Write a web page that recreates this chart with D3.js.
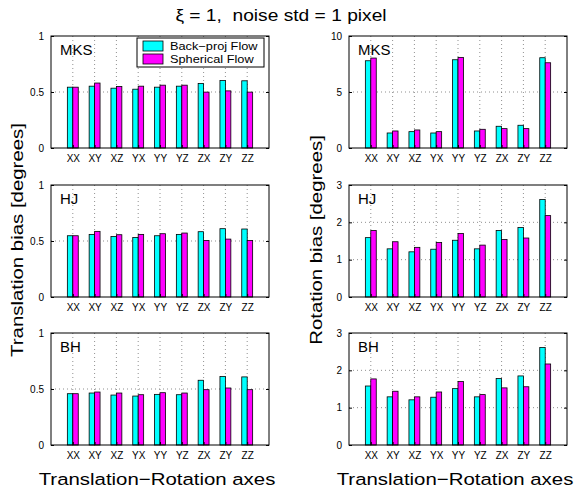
<!DOCTYPE html>
<html>
<head>
<meta charset="utf-8">
<title>Translation / rotation bias</title>
<script src="https://cdn.jsdelivr.net/npm/d3@7"></script>
<style>
body { margin: 0; background: #fff; }
svg { font-family: "Liberation Sans", Arial, sans-serif; }
.grid line { stroke: #444; stroke-width: 0.6; stroke-dasharray: 1 3; }
.tick text { font-size: 10px; fill: #000; font-family: "Liberation Sans", Arial, sans-serif; }
</style>
</head>
<body>
<svg width="580" height="488"></svg>
<script>
// categories (translation-rotation axis pairs)
var cats = ["XX", "XY", "XZ", "YX", "YY", "YZ", "ZX", "ZY", "ZZ"];
var seriesNames = ["Back\u2212proj Flow", "Spherical Flow"];

// translation bias [deg]
var transMKS_bp  = [0.543, 0.552, 0.534, 0.525, 0.543, 0.552, 0.576, 0.602, 0.600];
var transMKS_sph = [0.543, 0.580, 0.549, 0.552, 0.561, 0.561, 0.499, 0.510, 0.499];
var transHJ_bp   = [0.547, 0.559, 0.541, 0.532, 0.547, 0.559, 0.583, 0.610, 0.607];
var transHJ_sph  = [0.547, 0.586, 0.556, 0.559, 0.565, 0.571, 0.505, 0.517, 0.505];
var transBH_bp   = [0.458, 0.464, 0.446, 0.437, 0.452, 0.449, 0.578, 0.611, 0.608];
var transBH_sph  = [0.458, 0.473, 0.464, 0.449, 0.467, 0.464, 0.494, 0.509, 0.494];

// rotation bias [deg]
var rotMKS_bp  = [7.79, 1.34, 1.46, 1.34, 7.88, 1.52, 1.94, 2.03, 8.06];
var rotMKS_sph = [8.03, 1.52, 1.61, 1.46, 8.09, 1.67, 1.73, 1.73, 7.61];
var rotHJ_bp   = [1.59, 1.29, 1.21, 1.28, 1.52, 1.29, 1.78, 1.86, 2.61];
var rotHJ_sph  = [1.78, 1.48, 1.33, 1.46, 1.70, 1.39, 1.54, 1.58, 2.18];
var rotBH_bp   = [1.58, 1.29, 1.21, 1.28, 1.51, 1.29, 1.78, 1.85, 2.61];
var rotBH_sph  = [1.77, 1.44, 1.29, 1.42, 1.70, 1.35, 1.53, 1.56, 2.17];

// y ticks per panel
var transTicks = [0, 0.5, 1];
var rotMKSTicks = [0, 5, 10];
var rotTicks = [0, 1, 2, 3];

var colors = ["#00ffff", "#ff00ff"];

var panels = [
  {name: "MKS", col: 0, row: 0, a: transMKS_bp, b: transMKS_sph, ticks: transTicks, legend: true},
  {name: "HJ",  col: 0, row: 1, a: transHJ_bp,  b: transHJ_sph,  ticks: transTicks},
  {name: "BH",  col: 0, row: 2, a: transBH_bp,  b: transBH_sph,  ticks: transTicks},
  {name: "MKS", col: 1, row: 0, a: rotMKS_bp,   b: rotMKS_sph,   ticks: rotMKSTicks},
  {name: "HJ",  col: 1, row: 1, a: rotHJ_bp,    b: rotHJ_sph,    ticks: rotTicks},
  {name: "BH",  col: 1, row: 2, a: rotBH_bp,    b: rotBH_sph,    ticks: rotTicks}
];

var svg = d3.select("svg");
var colX = [51, 349], rowY = [36, 185, 333];
var pw = 218, ph = 112;
var SX = 1.2; // the original text is rendered wider than Helvetica

panels.forEach(function(p) {
  var g = svg.append("g").attr("transform", "translate(" + colX[p.col] + "," + rowY[p.row] + ")");
  var x = d3.scaleLinear().domain([0, 10]).range([0, pw]);
  var y = d3.scaleLinear().domain([p.ticks[0], p.ticks[p.ticks.length - 1]]).range([ph, 0]);

  // grid
  var grid = g.append("g").attr("class", "grid");
  grid.selectAll(".gv").data(cats).enter().append("line")
    .attr("x1", function(d, i) { return x(i + 1); }).attr("x2", function(d, i) { return x(i + 1); })
    .attr("y1", 0).attr("y2", ph);
  grid.selectAll(".gh").data(p.ticks.slice(1, -1)).enter().append("line")
    .attr("x1", 0).attr("x2", pw).attr("y1", function(d) { return y(d); }).attr("y2", function(d) { return y(d); });

  // bars
  var bw = 0.25;
  [p.a, p.b].forEach(function(vals, s) {
    g.selectAll(".bar" + s).data(vals).enter().append("rect")
      .attr("x", function(d, i) { return x(i + 1 - bw + s * bw); })
      .attr("width", x(bw) - x(0))
      .attr("y", function(d) { return y(d); })
      .attr("height", function(d) { return y(0) - y(d); })
      .attr("fill", colors[s]).attr("stroke", "#000").attr("stroke-width", 0.8);
  });

  // axes
  g.append("g").attr("transform", "translate(0," + ph + ")")
    .call(d3.axisBottom(x).tickValues(d3.range(1, 10)).tickFormat(function(d) { return cats[d - 1]; })
      .tickSizeInner(-3).tickSizeOuter(0).tickPadding(7))
    .call(function(a) { a.select(".domain").remove(); a.selectAll("line").attr("stroke", "#000"); });
  g.append("g")
    .call(d3.axisLeft(y).tickValues(p.ticks).tickFormat(function(d) { return String(d); })
      .tickSizeInner(-3).tickSizeOuter(0).tickPadding(7))
    .call(function(a) { a.select(".domain").remove(); });
  g.append("g").attr("transform", "translate(" + pw + ",0)")
    .call(d3.axisRight(y).tickValues(p.ticks).tickSizeInner(-3).tickSizeOuter(0).tickFormat(""))
    .call(function(a) { a.select(".domain").remove(); });
  g.append("rect").attr("width", pw).attr("height", ph)
    .attr("fill", "none").attr("stroke", "#000").attr("stroke-width", 1);

  g.append("text").attr("transform", "translate(9,19) scale(1.07,1)").attr("font-size", "14px").text(p.name);

  if (p.legend) {
    var lg = g.append("g").attr("transform", "translate(86,2)");
    lg.append("rect").attr("width", 127).attr("height", 29).attr("fill", "#fff").attr("stroke", "#000");
    seriesNames.forEach(function(n, i) {
      lg.append("rect").attr("x", 6).attr("y", 3 + i * 13).attr("width", 20).attr("height", 10)
        .attr("fill", colors[i]).attr("stroke", "#000").attr("stroke-width", 0.8);
      lg.append("text").attr("transform", "translate(33," + (12 + i * 13) + ") scale(1.16,1)")
        .attr("font-size", "11px").text(n);
    });
  }
});

// titles
svg.append("text").attr("transform", "translate(281,21) scale(" + SX + ",1)").attr("text-anchor", "middle")
  .attr("font-size", "16px").style("white-space", "pre").text("\u03be = 1,  noise std = 1 pixel");
[0, 1].forEach(function(c) {
  svg.append("text").attr("transform", "translate(" + (colX[c] + pw / 2 - 3) + ",485) scale(" + SX + ",1)")
    .attr("text-anchor", "middle").attr("font-size", "17px").text("Translation\u2212Rotation axes");
});
svg.append("text").attr("transform", "translate(23,240) rotate(-90) scale(" + SX + ",1)").attr("text-anchor", "middle")
  .attr("font-size", "17px").text("Translation bias [degrees]");
svg.append("text").attr("transform", "translate(322,240) rotate(-90) scale(" + SX + ",1)").attr("text-anchor", "middle")
  .attr("font-size", "17px").text("Rotation bias [degrees]");
</script>
</body>
</html>
